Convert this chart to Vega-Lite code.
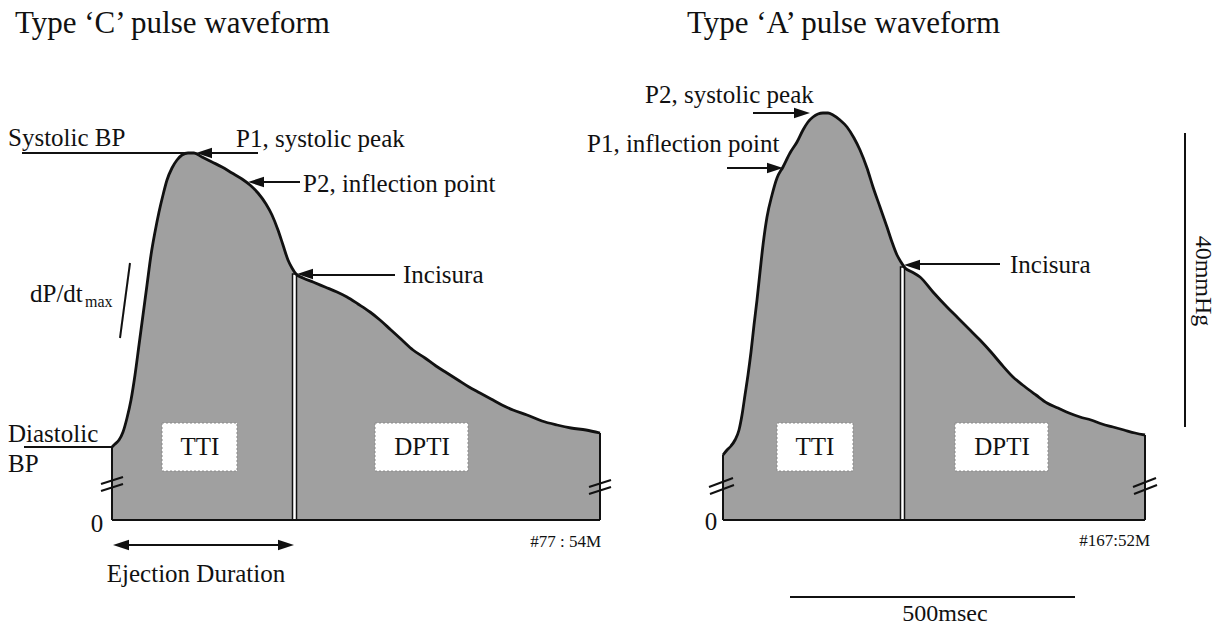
{
  "$schema": "https://vega.github.io/schema/vega-lite/v6.json",
  "width": 1225,
  "height": 625,
  "padding": 0,
  "autosize": {"type": "none"},
  "background": "white",
  "config": {"view": {"stroke": null}, "axis": {"disable": true}, "text": {"font": "Liberation Serif", "color": "#111"}},
  "datasets": {
    "curves": [
      {"w":"C","x":112,"y":447},{"w":"C","x":115,"y":444},{"w":"C","x":119,"y":440},{"w":"C","x":123,"y":432},{"w":"C","x":127,"y":418},{"w":"C","x":131,"y":400},{"w":"C","x":135,"y":375},{"w":"C","x":139,"y":345},{"w":"C","x":143,"y":315},{"w":"C","x":147,"y":285},{"w":"C","x":151,"y":255},{"w":"C","x":155,"y":232},{"w":"C","x":159,"y":212},{"w":"C","x":163,"y":195},{"w":"C","x":167,"y":180},{"w":"C","x":172,"y":168},{"w":"C","x":177,"y":160},{"w":"C","x":182,"y":155},{"w":"C","x":188,"y":153},{"w":"C","x":194,"y":153},{"w":"C","x":202,"y":157},{"w":"C","x":212,"y":162},{"w":"C","x":222,"y":167},{"w":"C","x":232,"y":173},{"w":"C","x":242,"y":179},{"w":"C","x":250,"y":185},{"w":"C","x":258,"y":193},{"w":"C","x":266,"y":204},{"w":"C","x":272,"y":215},{"w":"C","x":278,"y":230},{"w":"C","x":283,"y":245},{"w":"C","x":288,"y":260},{"w":"C","x":292,"y":268},{"w":"C","x":296,"y":274},{"w":"C","x":303,"y":278},{"w":"C","x":313,"y":282},{"w":"C","x":325,"y":287},{"w":"C","x":337,"y":292},{"w":"C","x":347,"y":297},{"w":"C","x":358,"y":304},{"w":"C","x":370,"y":312},{"w":"C","x":380,"y":320},{"w":"C","x":391,"y":330},{"w":"C","x":402,"y":340},{"w":"C","x":413,"y":350},{"w":"C","x":425,"y":358},{"w":"C","x":436,"y":366},{"w":"C","x":447,"y":373},{"w":"C","x":458,"y":380},{"w":"C","x":469,"y":387},{"w":"C","x":480,"y":393},{"w":"C","x":491,"y":399},{"w":"C","x":502,"y":405},{"w":"C","x":513,"y":410},{"w":"C","x":527,"y":415},{"w":"C","x":542,"y":421},{"w":"C","x":557,"y":425},{"w":"C","x":571,"y":428},{"w":"C","x":586,"y":430},{"w":"C","x":600,"y":433},
      {"w":"A","x":723,"y":455},{"w":"A","x":727,"y":450},{"w":"A","x":731,"y":446},{"w":"A","x":735,"y":440},{"w":"A","x":739,"y":430},{"w":"A","x":742,"y":415},{"w":"A","x":745,"y":395},{"w":"A","x":748,"y":375},{"w":"A","x":751,"y":352},{"w":"A","x":754,"y":325},{"w":"A","x":757,"y":300},{"w":"A","x":760,"y":272},{"w":"A","x":763,"y":245},{"w":"A","x":767,"y":217},{"w":"A","x":772,"y":195},{"w":"A","x":777,"y":178},{"w":"A","x":783,"y":167},{"w":"A","x":790,"y":153},{"w":"A","x":797,"y":142},{"w":"A","x":803,"y":130},{"w":"A","x":808,"y":122},{"w":"A","x":813,"y":117},{"w":"A","x":818,"y":114},{"w":"A","x":823,"y":113},{"w":"A","x":828,"y":113},{"w":"A","x":833,"y":115},{"w":"A","x":840,"y":120},{"w":"A","x":847,"y":127},{"w":"A","x":854,"y":138},{"w":"A","x":860,"y":150},{"w":"A","x":867,"y":168},{"w":"A","x":873,"y":187},{"w":"A","x":880,"y":207},{"w":"A","x":887,"y":227},{"w":"A","x":892,"y":242},{"w":"A","x":897,"y":255},{"w":"A","x":901,"y":262},{"w":"A","x":905,"y":268},{"w":"A","x":912,"y":272},{"w":"A","x":920,"y":277},{"w":"A","x":933,"y":292},{"w":"A","x":947,"y":307},{"w":"A","x":958,"y":318},{"w":"A","x":969,"y":329},{"w":"A","x":980,"y":340},{"w":"A","x":991,"y":352},{"w":"A","x":1002,"y":365},{"w":"A","x":1013,"y":377},{"w":"A","x":1024,"y":386},{"w":"A","x":1036,"y":395},{"w":"A","x":1047,"y":403},{"w":"A","x":1058,"y":408},{"w":"A","x":1069,"y":413},{"w":"A","x":1080,"y":417},{"w":"A","x":1091,"y":420},{"w":"A","x":1102,"y":424},{"w":"A","x":1113,"y":427},{"w":"A","x":1124,"y":430},{"w":"A","x":1135,"y":433},{"w":"A","x":1145,"y":435}
    ],
    "boxes": [
      {"x":162,"x2":237,"y":423,"y2":471},
      {"x":375,"x2":468,"y":423,"y2":471},
      {"x":777,"x2":853,"y":423,"y2":471},
      {"x":955,"x2":1048,"y":423,"y2":471}
    ],
    "seps": [
      {"x":292.5,"x2":296.5,"y":274,"y2":520},
      {"x":900.5,"x2":904.5,"y":267,"y2":520}
    ],
    "rules": [
      {"x":112,"y":447,"x2":112,"y2":520},
      {"x":600,"y":433,"x2":600,"y2":520},
      {"x":112,"y":520,"x2":600,"y2":520},
      {"x":723,"y":455,"x2":723,"y2":520},
      {"x":1145,"y":435,"x2":1145,"y2":520},
      {"x":723,"y":520,"x2":1145,"y2":520},
      {"x":22,"y":153,"x2":192,"y2":153},
      {"x":24,"y":447,"x2":112,"y2":447},
      {"x":130,"y":263,"x2":120,"y2":338},
      {"x":1185,"y":133,"x2":1185,"y2":427},
      {"x":790,"y":597,"x2":1075,"y2":597},
      {"x":204,"y":153,"x2":258,"y2":153},
      {"x":256,"y":182,"x2":300,"y2":182},
      {"x":305,"y":275,"x2":395,"y2":275},
      {"x":753,"y":113,"x2":802,"y2":113},
      {"x":727,"y":168,"x2":776,"y2":168},
      {"x":912,"y":264,"x2":1000,"y2":264},
      {"x":121,"y":545,"x2":286,"y2":545},
      {"x":101,"y":484,"x2":123,"y2":477},
      {"x":101,"y":491,"x2":123,"y2":484},
      {"x":589,"y":487,"x2":611,"y2":480},
      {"x":589,"y":494,"x2":611,"y2":487},
      {"x":709,"y":487,"x2":733,"y2":478},
      {"x":710,"y":494,"x2":734,"y2":485},
      {"x":1133,"y":487,"x2":1156,"y2":478},
      {"x":1134,"y":494,"x2":1157,"y2":485}
    ],
    "arrows": [
      {"x":196,"y":153,"d":"L"},
      {"x":248,"y":182,"d":"L"},
      {"x":297,"y":274,"d":"L"},
      {"x":810,"y":113,"d":"R"},
      {"x":783,"y":168,"d":"R"},
      {"x":904,"y":265,"d":"L"},
      {"x":113,"y":545,"d":"L"},
      {"x":294,"y":545,"d":"R"}
    ],
    "texts": [
      {"k":"title","t":"Type ‘C’ pulse waveform","x":15,"y":33},
      {"k":"title","t":"Type ‘A’ pulse waveform","x":687,"y":33},
      {"k":"left","t":"Systolic BP","x":8,"y":146},
      {"k":"left","t":"P1, systolic peak","x":236,"y":147},
      {"k":"left","t":"P2, inflection point","x":303,"y":192},
      {"k":"left","t":"Incisura","x":403,"y":283},
      {"k":"left","t":"Diastolic","x":8,"y":442},
      {"k":"left","t":"BP","x":8,"y":472},
      {"k":"left","t":"dP/dt","x":30,"y":302},
      {"k":"left","t":"P2, systolic peak","x":645,"y":103},
      {"k":"left","t":"P1, inflection point","x":587,"y":152},
      {"k":"left","t":"Incisura","x":1010,"y":273},
      {"k":"center","t":"Ejection Duration","x":196,"y":582},
      {"k":"center","t":"0","x":97,"y":532},
      {"k":"center","t":"0","x":711,"y":530},
      {"k":"box","t":"TTI","x":200,"y":447},
      {"k":"box","t":"DPTI","x":422,"y":447},
      {"k":"box","t":"TTI","x":815,"y":447},
      {"k":"box","t":"DPTI","x":1002,"y":447},
      {"k":"bottom","t":"500msec","x":945,"y":621},
      {"k":"sub","t":"max","x":85,"y":307},
      {"k":"note","t":"#77 : 54M","x":601,"y":547},
      {"k":"note","t":"#167:52M","x":1150,"y":546},
      {"k":"rot","t":"40mmHg","x":1203,"y":281}
    ]
  },
  "layer": [
    {
      "data": {"name": "curves"},
      "mark": {"type": "area", "color": "#a0a0a0", "interpolate": "monotone"},
      "encoding": {
        "x": {"field": "x", "type": "quantitative", "scale": {"domain": [0, 1225], "nice": false, "zero": false}},
        "y": {"field": "y", "type": "quantitative", "scale": {"domain": [0, 625], "reverse": true, "nice": false, "zero": false}},
        "y2": {"datum": 520},
        "detail": {"field": "w"}
      }
    },
    {
      "data": {"name": "boxes"},
      "mark": {"type": "rect", "fill": "white", "stroke": "#8a8a8a", "strokeWidth": 1, "strokeDash": [2, 2]},
      "encoding": {
        "x": {"field": "x", "type": "quantitative", "scale": {"domain": [0, 1225], "nice": false, "zero": false}},
        "x2": {"field": "x2"},
        "y": {"field": "y", "type": "quantitative", "scale": {"domain": [0, 625], "reverse": true, "nice": false, "zero": false}},
        "y2": {"field": "y2"}
      }
    },
    {
      "data": {"name": "seps"},
      "mark": {"type": "rect", "fill": "white", "stroke": "#111", "strokeWidth": 1.5},
      "encoding": {
        "x": {"field": "x", "type": "quantitative", "scale": {"domain": [0, 1225], "nice": false, "zero": false}},
        "x2": {"field": "x2"},
        "y": {"field": "y", "type": "quantitative", "scale": {"domain": [0, 625], "reverse": true, "nice": false, "zero": false}},
        "y2": {"field": "y2"}
      }
    },
    {
      "data": {"name": "curves"},
      "mark": {"type": "line", "color": "#111", "strokeWidth": 2.8, "interpolate": "monotone"},
      "encoding": {
        "x": {"field": "x", "type": "quantitative", "scale": {"domain": [0, 1225], "nice": false, "zero": false}},
        "y": {"field": "y", "type": "quantitative", "scale": {"domain": [0, 625], "reverse": true, "nice": false, "zero": false}},
        "detail": {"field": "w"}
      }
    },
    {
      "data": {"name": "rules"},
      "mark": {"type": "rule", "color": "#111", "strokeWidth": 2},
      "encoding": {
        "x": {"field": "x", "type": "quantitative", "scale": {"domain": [0, 1225], "nice": false, "zero": false}},
        "x2": {"field": "x2"},
        "y": {"field": "y", "type": "quantitative", "scale": {"domain": [0, 625], "reverse": true, "nice": false, "zero": false}},
        "y2": {"field": "y2"}
      }
    },
    {
      "data": {"name": "arrows"},
      "mark": {"type": "point", "filled": true, "color": "#111", "size": 256, "opacity": 1, "strokeWidth": 0},
      "encoding": {
        "x": {"field": "x", "type": "quantitative", "scale": {"domain": [0, 1225], "nice": false, "zero": false}},
        "y": {"field": "y", "type": "quantitative", "scale": {"domain": [0, 625], "reverse": true, "nice": false, "zero": false}},
        "shape": {"field": "d", "type": "nominal", "legend": null, "scale": {"domain": ["L", "R"], "range": ["M 0 0 L 2 -0.65 L 2 0.65 Z", "M 0 0 L -2 -0.65 L -2 0.65 Z"]}}
      }
    },
    {
      "data": {"name": "texts"},
      "transform": [{"filter": "datum.k === 'title'"}],
      "mark": {"type": "text", "fontSize": 31, "align": "left", "baseline": "alphabetic"},
      "encoding": {
        "x": {"field": "x", "type": "quantitative", "scale": {"domain": [0, 1225], "nice": false, "zero": false}},
        "y": {"field": "y", "type": "quantitative", "scale": {"domain": [0, 625], "reverse": true, "nice": false, "zero": false}},
        "text": {"field": "t"}
      }
    },
    {
      "data": {"name": "texts"},
      "transform": [{"filter": "datum.k === 'left'"}],
      "mark": {"type": "text", "fontSize": 25, "align": "left", "baseline": "alphabetic"},
      "encoding": {
        "x": {"field": "x", "type": "quantitative", "scale": {"domain": [0, 1225], "nice": false, "zero": false}},
        "y": {"field": "y", "type": "quantitative", "scale": {"domain": [0, 625], "reverse": true, "nice": false, "zero": false}},
        "text": {"field": "t"}
      }
    },
    {
      "data": {"name": "texts"},
      "transform": [{"filter": "datum.k === 'center'"}],
      "mark": {"type": "text", "fontSize": 25, "align": "center", "baseline": "alphabetic"},
      "encoding": {
        "x": {"field": "x", "type": "quantitative", "scale": {"domain": [0, 1225], "nice": false, "zero": false}},
        "y": {"field": "y", "type": "quantitative", "scale": {"domain": [0, 625], "reverse": true, "nice": false, "zero": false}},
        "text": {"field": "t"}
      }
    },
    {
      "data": {"name": "texts"},
      "transform": [{"filter": "datum.k === 'box'"}],
      "mark": {"type": "text", "fontSize": 25, "align": "center", "baseline": "middle"},
      "encoding": {
        "x": {"field": "x", "type": "quantitative", "scale": {"domain": [0, 1225], "nice": false, "zero": false}},
        "y": {"field": "y", "type": "quantitative", "scale": {"domain": [0, 625], "reverse": true, "nice": false, "zero": false}},
        "text": {"field": "t"}
      }
    },
    {
      "data": {"name": "texts"},
      "transform": [{"filter": "datum.k === 'bottom'"}],
      "mark": {"type": "text", "fontSize": 24, "align": "center", "baseline": "alphabetic"},
      "encoding": {
        "x": {"field": "x", "type": "quantitative", "scale": {"domain": [0, 1225], "nice": false, "zero": false}},
        "y": {"field": "y", "type": "quantitative", "scale": {"domain": [0, 625], "reverse": true, "nice": false, "zero": false}},
        "text": {"field": "t"}
      }
    },
    {
      "data": {"name": "texts"},
      "transform": [{"filter": "datum.k === 'sub'"}],
      "mark": {"type": "text", "fontSize": 16, "align": "left", "baseline": "alphabetic"},
      "encoding": {
        "x": {"field": "x", "type": "quantitative", "scale": {"domain": [0, 1225], "nice": false, "zero": false}},
        "y": {"field": "y", "type": "quantitative", "scale": {"domain": [0, 625], "reverse": true, "nice": false, "zero": false}},
        "text": {"field": "t"}
      }
    },
    {
      "data": {"name": "texts"},
      "transform": [{"filter": "datum.k === 'note'"}],
      "mark": {"type": "text", "fontSize": 17, "align": "right", "baseline": "alphabetic"},
      "encoding": {
        "x": {"field": "x", "type": "quantitative", "scale": {"domain": [0, 1225], "nice": false, "zero": false}},
        "y": {"field": "y", "type": "quantitative", "scale": {"domain": [0, 625], "reverse": true, "nice": false, "zero": false}},
        "text": {"field": "t"}
      }
    },
    {
      "data": {"name": "texts"},
      "transform": [{"filter": "datum.k === 'rot'"}],
      "mark": {"type": "text", "fontSize": 24, "align": "center", "baseline": "middle", "angle": 90},
      "encoding": {
        "x": {"field": "x", "type": "quantitative", "scale": {"domain": [0, 1225], "nice": false, "zero": false}},
        "y": {"field": "y", "type": "quantitative", "scale": {"domain": [0, 625], "reverse": true, "nice": false, "zero": false}},
        "text": {"field": "t"}
      }
    }
  ]
}
